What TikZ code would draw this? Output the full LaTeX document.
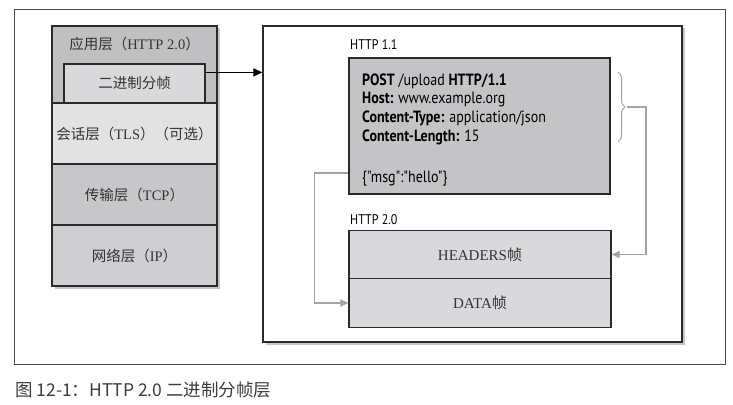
\documentclass[tikz,border=0pt]{standalone}
\usepackage{fontspec}
\setmainfont{Liberation Serif}
\newfontfamily\cjk{Noto Sans CJK SC}
\newfontfamily\myr[FakeStretch=0.86]{PT Sans}
\usetikzlibrary{shadows,arrows.meta,decorations.pathreplacing,calc}
\definecolor{appgray}{HTML}{C0C0C2}
\definecolor{framegray}{HTML}{D9D9DB}
\definecolor{tlsgray}{HTML}{E2E2E2}
\definecolor{tcpgray}{HTML}{C7C7C9}
\definecolor{ipgray}{HTML}{CFCFD1}
\definecolor{reqgray}{HTML}{C4C4C6}
\definecolor{h2gray}{HTML}{D9D9DB}
\definecolor{boxline}{HTML}{2A2A2A}
\definecolor{txt}{HTML}{333333}
\definecolor{conn}{HTML}{A3A3A5}
\definecolor{capgray}{HTML}{3C3C3C}
\tikzset{
  shad/.style={drop shadow={shadow xshift=2.5pt,shadow yshift=-2.5pt,opacity=0.45}},
  layer/.style={draw=boxline,line width=1.2pt,minimum width=165pt,inner sep=0pt,text=txt,font=\fontsize{14.5}{16}\selectfont,shad},
  hbox/.style={draw=boxline,line width=1.2pt,minimum width=262pt,minimum height=48.5pt,fill=h2gray,inner sep=0pt,text=txt,font=\fontsize{15}{17}\selectfont},
  lbl/.style={anchor=base west,inner sep=0pt,text=black,font=\myr\fontsize{14}{15}\selectfont},
  gconn/.style={draw=conn,line width=1.3pt,-{Triangle[length=8pt,width=7pt]}},
}
\begin{document}
\begin{tikzpicture}[x=1pt,y=-1pt]
\useasboundingbox (0,0) rectangle (733,404);
% outer frame
\node[draw=black!70,line width=0.9pt,minimum width=711pt,minimum height=355pt,inner sep=0pt] (frame) at (370,186.5) {};
% left stack
\node[layer,fill=appgray,minimum height=77pt] (app) at (134.5,64.5) {};
\node[inner sep=0pt,text=txt,font=\fontsize{14.5}{16}\selectfont] (apptxt) at (134.5,44) {{\cjk 应用层（}HTTP 2.0{\cjk ）}};
\node[draw=boxline,line width=1.2pt,fill=framegray,minimum width=141pt,minimum height=39pt,inner sep=0pt,text=txt,font=\cjk\fontsize{14.5}{16}\selectfont] (binframe) at (134.5,83.5) {二进制分帧};
\node[layer,fill=tlsgray,minimum height=61pt] (tls) at (134.5,133.5) {{\cjk 会话层（}TLS{\cjk ）（可选）}};
\node[layer,fill=tcpgray,minimum height=61pt] (tcp) at (134.5,194.5) {{\cjk 传输层（}TCP{\cjk ）}};
\node[layer,fill=ipgray,minimum height=61pt] (ip) at (134.5,255.5) {{\cjk 网络层（}IP{\cjk ）}};
% right box
\node[draw=boxline,line width=1.2pt,fill=white,minimum width=419pt,minimum height=316pt,inner sep=0pt,shad] (right) at (472.5,184) {};
% arrow
\coordinate (a1) at ($(binframe.north east)+(0,9)$);
\draw[black,line width=1.2pt,-{Triangle[length=9pt,width=8pt]}] (a1) -- (a1 -| right.west);
% HTTP 1.1
\node[lbl] (l11) at (350,49) {HTTP 1.1};
\node[draw=boxline,line width=1.2pt,fill=reqgray,minimum width=261pt,minimum height=136pt,inner sep=0pt] (req) at (479.5,126) {};
\node[anchor=base west,inner sep=0pt,align=left,text=black,font=\myr\fontsize{16.3}{18.6}\selectfont] (hdrs) at (362,141)
  {\textbf{POST} /upload \textbf{HTTP/1.1}\\
   \textbf{Host:} www.example.org\\
   \textbf{Content-Type:} application/json\\
   \textbf{Content-Length:} 15};
\node[anchor=base west,inner sep=0pt,text=black,font=\myr\fontsize{16.3}{18}\selectfont] (msg) at (362,182) {\{"msg":"hello"\}};
% brace
\draw[conn,line width=1pt,decorate,decoration={brace,amplitude=7pt}] (618,72) -- (618,142);
\coordinate (btip) at (627,107);
% HTTP 2.0
\node[lbl] (l20) at (350,224) {HTTP 2.0};
\node[hbox] (headers) at (480,254.5) {HEADERS{\cjk 帧}};
\node[hbox] (data) at (480,303) {DATA{\cjk 帧}};
% connectors
\coordinate (m1) at (req.west |- 0,173);
\draw[gconn] (m1) -- ++(-34,0) |- (data.west);
\draw[gconn] (btip) -- ++(19,0) |- (headers.east);
% caption
\node[anchor=base west,inner sep=0pt,text=capgray,font=\cjk\fontsize{17.5}{19}\selectfont] (cap) at (15,396) {图 12-1：HTTP 2.0 二进制分帧层};
\end{tikzpicture}
\end{document}
